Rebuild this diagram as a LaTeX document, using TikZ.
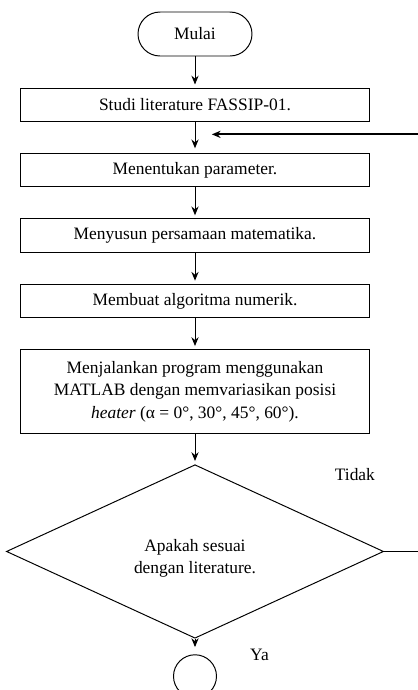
\documentclass[tikz,border=0pt]{standalone}
\usepackage{fontspec}
\setmainfont{Liberation Serif}
\usetikzlibrary{positioning,shapes.geometric,arrows.meta}
\tikzset{
  term/.style={rectangle, rounded corners=0.55cm, minimum width=2.85cm, minimum height=1.1cm, text centered, draw=black},
  proc/.style={rectangle, minimum width=8.73cm, minimum height=0.83cm, text centered, draw=black},
  cek/.style={diamond, minimum width=9.43cm, minimum height=3.8cm, inner sep=0pt, align=center, draw=black},
  ujung/.style={circle, minimum size=1.075cm, inner sep=0pt, draw=black},
  node distance=0.78cm
}
\begin{document}
\begin{tikzpicture}[line width=0.7pt, >={Stealth[length=2.2mm,width=1.8mm]}, font=\fontsize{12.4}{16}\selectfont]
	\useasboundingbox (0,0) rectangle (10.45,-17.25);
	\node[term] (mulai) at (4.875,-0.85) {Mulai};
	\node[proc, below=of mulai] (studi) {Studi literature FASSIP-01.};
	\node[proc, below=of studi] (param) {Menentukan parameter.};
	\node[proc, below=of param] (persamaan) {Menyusun persamaan matematika.};
	\node[proc, below=of persamaan] (algoritma) {Membuat algoritma numerik.};
	\node[proc, below=of algoritma, minimum height=2.1cm, align=center] (program) {Menjalankan program menggunakan\\MATLAB dengan memvariasikan posisi\\\textit{heater} (α = 0°, 30°, 45°, 60°).};
	\node[cek, below=0.75cm of program] (sesuai) {\\[2pt]Apakah sesuai\\dengan literature.};
	\node[ujung] (selesai) at ([yshift=-3.12cm]sesuai.center) {};
	%
	\draw[->, shorten >=0.8mm] (mulai) -- (studi);
	\draw[->, shorten >=1.2mm] (studi) -- (param) coordinate[pos=0.4] (balik);
	\draw[->, shorten >=0.8mm] (param) -- (persamaan);
	\draw[->, shorten >=0.8mm] (persamaan) -- (algoritma);
	\draw[->, shorten >=0.8mm] (algoritma) -- (program);
	\draw[->, shorten >=0.8mm] (program) -- (sesuai);
	\draw[->, shorten >=1.8mm] (sesuai) -- node[right=1.25cm, yshift=-0.2cm] (ya) {Ya} (selesai);
	\draw[->, line width=1.3pt] (sesuai.east) -- ++(1.3,0) |- ([xshift=0.42cm]balik);
	\node[above left=1.65cm and 0.1cm of sesuai.east] (tidak) {Tidak};
\end{tikzpicture}
\end{document}
